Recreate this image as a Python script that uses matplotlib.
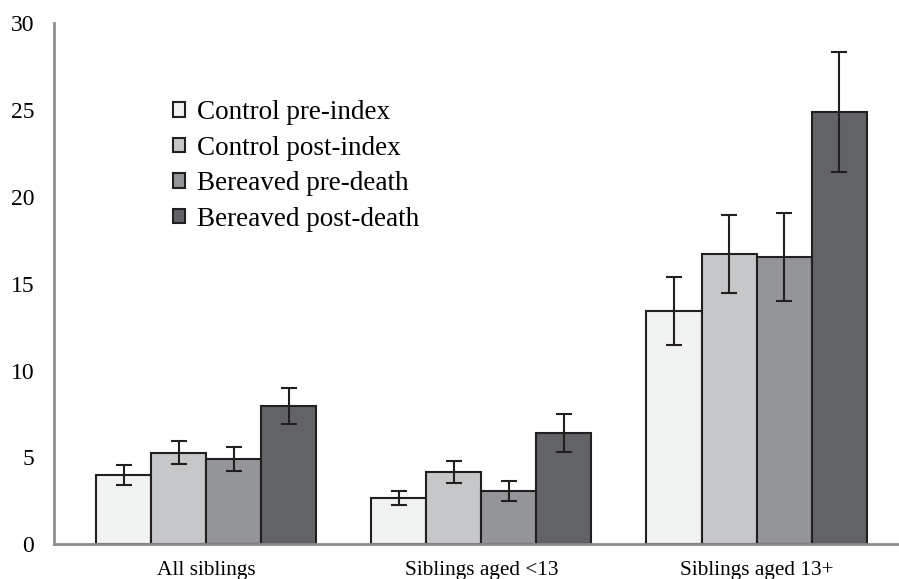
import numpy as np
import matplotlib.pyplot as plt

categories = ["All siblings", "Siblings aged <13", "Siblings aged 13+"]
series = ["Control pre-index", "Control post-index", "Bereaved pre-death", "Bereaved post-death"]
colors = ["#f1f2f2", "#c6c7c9", "#939598", "#626366"]

values = [
    [3.99, 2.68, 13.42],   # control pre-index
    [5.27, 4.16, 16.70],   # control post-index
    [4.91, 3.07, 16.53],   # bereaved pre-death
    [7.97, 6.39, 24.89],   # bereaved post-death
]
errors = [
    [0.55, 0.40, 1.95],
    [0.65, 0.62, 2.25],
    [0.70, 0.60, 2.55],
    [1.05, 1.10, 3.45],
]

plt.rcParams['font.family'] = ['Liberation Serif', 'DejaVu Serif']

fig = plt.figure(figsize=(8.99, 5.79), dpi=100)
ax = fig.add_axes([0.0604, 0.0599, 0.9396, 0.9004])

x = np.arange(len(categories))
width = 0.2
for i, name in enumerate(series):
    pos = x + (i - 1.5) * width
    ax.bar(pos, values[i], width, color=colors[i], edgecolor="#231f20",
           linewidth=1.5, label=name, zorder=2)
    ax.errorbar(pos, values[i], yerr=errors[i], fmt="none", ecolor="#231f20",
                elinewidth=1.5, capsize=6, capthick=1.5, zorder=3)

ax.set_xlim(-0.553, 2.518)
ax.set_ylim(0, 30)
ax.set_yticks([0, 5, 10, 15, 20, 25, 30])
ax.set_xticks(x)
ax.set_xticklabels(categories, fontsize=15.3)
ax.tick_params(axis="y", length=0, pad=14.5, labelsize=17)
ax.tick_params(axis="x", length=0, pad=12)

for side in ["top", "right"]:
    ax.spines[side].set_visible(False)
for side in ["left", "bottom"]:
    ax.spines[side].set_color("#8d8e90")
    ax.spines[side].set_linewidth(2)

ax.legend(loc="upper left", bbox_to_anchor=(0.1405, 0.852), frameon=False,
          fontsize=19.5, handlelength=0.45, handleheight=0.45, handletextpad=0.45,
          labelspacing=0.39, borderpad=0, borderaxespad=0)

fig.savefig("out.png", dpi=100)
